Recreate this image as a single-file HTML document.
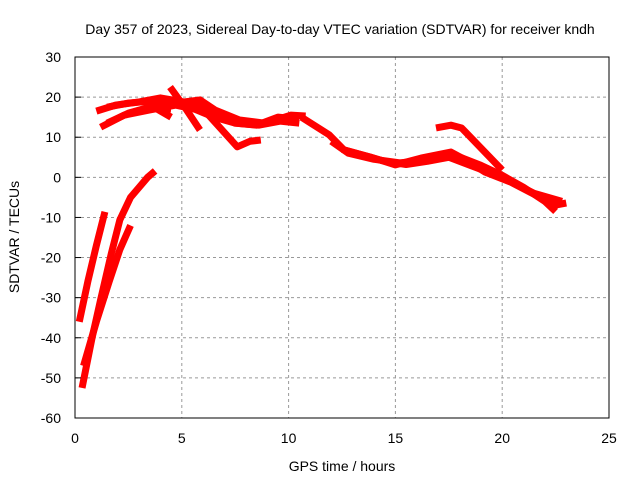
<!DOCTYPE html>
<html><head><meta charset="utf-8"><style>
body{margin:0;background:#fff}
svg{display:block;font-family:"Liberation Sans",sans-serif}
</style></head><body>
<svg id="c" width="640" height="480">
<text x="340" y="34" font-size="14" text-anchor="middle">Day 357 of 2023, Sidereal Day-to-day VTEC variation (SDTVAR) for receiver kndh</text>
<text x="342" y="471" font-size="14" text-anchor="middle">GPS time / hours</text>
<text transform="translate(19,237) rotate(-90)" font-size="14" text-anchor="middle">SDTVAR / TECUs</text>
<g id="grid"></g><g id="series"></g><g id="axes"></g>
</svg>
<script>
const xTicks=[0,5,10,15,20,25];
const yTicks=[30,20,10,0,-10,-20,-30,-40,-50,-60];
const segA=[[0.2,-36],[0.6,-26],[1.0,-17],[1.4,-8.6]];
const segB=[[0.33,-52.5],[0.8,-40],[1.2,-30.5],[1.7,-19],[2.1,-10.6],[2.6,-5],[3.0,-2.5],[3.4,0],[3.75,1.6]];
const segB2=[[0.4,-47],[1.0,-36],[1.6,-26],[2.1,-18],[2.6,-12]];
const segC=[[1.0,16.5],[1.9,18],[3.0,18.8],[4.0,19.8],[5.1,18.8],[5.85,19.3],[6.55,16.8],[7.7,14.3],[8.9,13.5],[10.1,15.5],[10.8,15.3]];
const segC2=[[1.5,17.5],[2.5,18.5],[3.5,19],[4.5,18.5],[5.5,18.5],[6.5,16],[7.5,13.5],[8.5,13],[9.5,15],[10.5,14.5]];
const segD=[[1.2,12.5],[2.3,15.5],[3.5,16.8],[4.7,18],[5.6,17],[6.5,15],[7.5,13.5],[8.6,13],[9.6,14],[10.5,13.5]];
const segD2=[[1.5,13.5],[2.5,16],[3.5,17.5],[4.5,17]];
const segE=[[4.45,22.5],[5.2,17],[5.85,11.8]];
const segE2=[[3.2,19],[4.5,15]];
const segF=[[6.0,17],[7.6,7.6],[8.2,9],[8.7,9.3]];
const segMain=[[10.6,15],[11.9,10.6],[12.6,6.8],[13.8,5.1],[15,3.1],[16.2,4.8],[17.6,6.3],[18.3,4.3],[19.2,1.3],[20.4,-1.2],[21.3,-3.7],[22.5,-6.9],[23,-6.4]];
const segMain2=[[12,9],[12.8,6],[14,4.5],[15.2,3.6],[16.5,4.3],[17.8,5.5],[19,3],[20,0.5],[21,-2.5],[22,-6],[22.5,-8.5]];
const segMain3=[[12.5,7],[13.5,5.5],[14.5,4],[15.5,3.2],[16.5,4],[17.5,5],[18.5,3],[20,0],[21.5,-4],[22.8,-6]];
const segG=[[16.9,12.3],[17.6,13],[18.1,12.3],[20,1.8]];
const allSegs=[segA,segB,segB2,segC,segC2,segD,segD2,segE,segE2,segF,segMain,segMain2,segMain3,segG];
const X=h=>75+h*21.36, Y=v=>57+(30-v)*4.011;
const NS="http://www.w3.org/2000/svg";
function mk(t,a,p){const e=document.createElementNS(NS,t);for(const k in a)e.setAttribute(k,a[k]);p.appendChild(e);return e;}
const grid=document.getElementById('grid'),axes=document.getElementById('axes'),ser=document.getElementById('series');
xTicks.forEach(t=>{
 if(t>0&&t<25){const l=mk('line',{x1:X(t),x2:X(t),y1:57,y2:418,stroke:'#999','stroke-dasharray':'3,3'},grid);
 
 }
 const tx=mk('text',{x:X(t),y:443,'font-size':14,'text-anchor':'middle'},axes);tx.textContent=t;
 
 
});
yTicks.forEach(t=>{
 if(t<30&&t>-60){const l=mk('line',{x1:75,x2:609,y1:Y(t),y2:Y(t),stroke:'#999','stroke-dasharray':'3,3'},grid);
 
 }
 mk('line',{x1:75,x2:81,y1:Y(t),y2:Y(t),stroke:'#000'},axes);
 const tx=mk('text',{x:61,y:Y(t)+5,'font-size':14,'text-anchor':'end'},axes);tx.textContent=t;
 
 
});
const fr=mk('rect',{x:75,y:57,width:534,height:361,fill:'none',stroke:'#000'},axes);


allSegs.forEach(s=>{
 const p=mk('polyline',{points:s.map(d=>X(d[0])+','+Y(d[1])).join(' '),fill:'none',stroke:'#f00','stroke-width':7,'stroke-linejoin':'round','stroke-linecap':'butt'},ser);
 
 
});
</script>
</body></html>
